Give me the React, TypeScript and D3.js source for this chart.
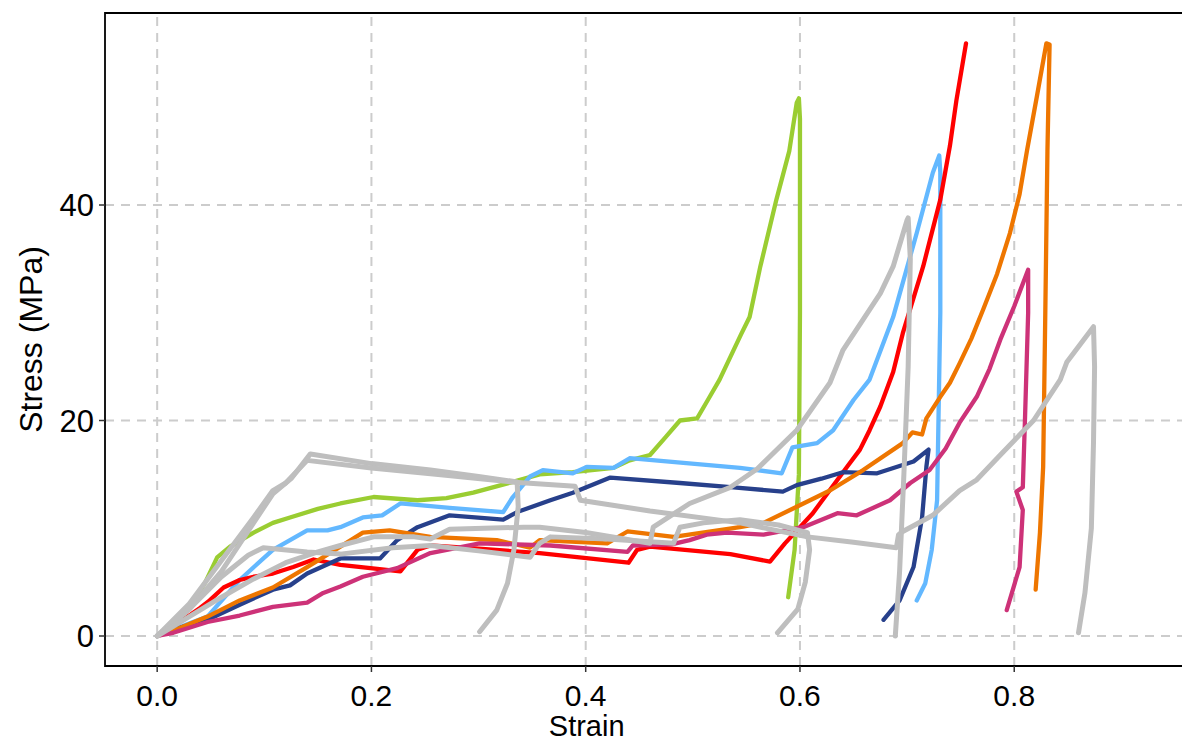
import * as React from 'react'
import * as d3 from 'd3'

type Pt = [number, number]

// strain, stress (MPa) pairs
const greenCurve: Pt[] = [[0,0],[0.015,1],[0.031,2.7],[0.045,5],[0.056,7.3],[0.068,8.3],[0.09,9.6],[0.108,10.5],[0.124,11],[0.15,11.8],[0.171,12.3],[0.202,12.9],[0.243,12.6],[0.27,12.8],[0.295,13.3],[0.332,14.3],[0.357,15],[0.388,15.2],[0.426,15.6],[0.441,16.3],[0.46,16.8],[0.475,18.5],[0.488,20],[0.504,20.2],[0.514,21.9],[0.525,23.8],[0.545,28],[0.553,29.6],[0.563,34.3],[0.578,40.5],[0.59,45],[0.597,49.5],[0.599,49.9],[0.6,48],[0.6,30],[0.599,15],[0.595,8],[0.589,3.6]]
const skyCurve: Pt[] = [[0,0],[0.031,1.2],[0.047,1.8],[0.077,5.2],[0.108,8],[0.14,9.8],[0.159,9.8],[0.171,10.1],[0.192,11],[0.21,11.2],[0.227,12.3],[0.273,11.9],[0.323,11.5],[0.332,12.9],[0.348,14.8],[0.36,15.4],[0.388,15.1],[0.401,15.7],[0.426,15.6],[0.441,16.5],[0.544,15.6],[0.583,15.1],[0.593,17.5],[0.616,17.9],[0.631,19.1],[0.65,21.9],[0.665,23.8],[0.687,29.6],[0.709,37.4],[0.724,43],[0.73,44.6],[0.731,43],[0.731,30],[0.728,12.6],[0.723,8],[0.717,4.9],[0.709,3.3]]
const redCurve: Pt[] = [[0,0],[0.02,1.2],[0.04,2.6],[0.049,3.3],[0.062,4.5],[0.077,5.2],[0.09,5.5],[0.108,5.8],[0.127,6.4],[0.146,7.1],[0.171,6.6],[0.227,6.0],[0.243,8.0],[0.255,8.4],[0.3,8.1],[0.357,7.7],[0.44,6.8],[0.448,8.0],[0.46,8.3],[0.535,7.6],[0.572,6.9],[0.586,8.6],[0.612,11.4],[0.644,15.7],[0.656,17.3],[0.665,19.1],[0.675,21.3],[0.687,24.5],[0.696,28.1],[0.715,34.3],[0.731,40.5],[0.74,45.5],[0.746,49.7],[0.755,55]]
const navyCurve: Pt[] = [[0,0],[0.015,0.6],[0.047,1.5],[0.077,2.9],[0.108,4.3],[0.124,4.7],[0.14,5.8],[0.171,7.2],[0.208,7.2],[0.224,8.9],[0.243,10.1],[0.273,11.2],[0.323,10.8],[0.336,11.5],[0.367,12.6],[0.388,13.3],[0.423,14.7],[0.488,14.2],[0.538,13.8],[0.584,13.4],[0.597,14],[0.62,14.6],[0.64,15.2],[0.672,15.1],[0.706,16.2],[0.72,17.3],[0.718,15.7],[0.714,11.0],[0.706,6.4],[0.693,3.3],[0.678,1.5]]
const orangeCurve: Pt[] = [[0,0],[0.02,0.7],[0.047,1.8],[0.077,3.3],[0.108,4.5],[0.14,6.4],[0.171,8.3],[0.192,9.6],[0.217,9.8],[0.255,9.2],[0.317,8.9],[0.348,8.2],[0.357,8.9],[0.42,8.6],[0.439,9.7],[0.482,9.2],[0.544,10.1],[0.566,10.5],[0.597,12.0],[0.628,13.5],[0.659,15.4],[0.696,17.9],[0.705,18.9],[0.714,18.7],[0.718,20.2],[0.731,22.2],[0.74,23.5],[0.749,25.3],[0.76,27.6],[0.771,30.3],[0.784,33.6],[0.796,37.4],[0.805,41],[0.812,45.1],[0.821,50],[0.83,55.0],[0.833,54.9],[0.831,45],[0.829,30],[0.827,15.7],[0.824,9.6],[0.82,4.3]]
const magentaCurve: Pt[] = [[0,0],[0.015,0.3],[0.047,1.3],[0.077,1.9],[0.108,2.7],[0.14,3.1],[0.155,4.0],[0.171,4.6],[0.192,5.5],[0.224,6.3],[0.255,7.7],[0.301,8.6],[0.367,8.4],[0.439,7.8],[0.444,8.4],[0.48,8.5],[0.497,8.9],[0.513,9.4],[0.532,9.6],[0.566,9.4],[0.603,10.1],[0.635,11.4],[0.653,11.2],[0.684,12.6],[0.703,14.2],[0.721,15.4],[0.736,17.4],[0.749,19.8],[0.765,22.2],[0.777,24.8],[0.787,27.5],[0.8,30.6],[0.813,34.0],[0.813,30],[0.81,20],[0.808,13.8],[0.802,13.4],[0.808,11.7],[0.805,6.4],[0.793,2.4]]

const greyA: Pt[] = [[0,0],[0.03,2.5],[0.06,6],[0.09,10.5],[0.108,13.2],[0.125,14.6],[0.143,16.9],[0.2,16.0],[0.255,15.4],[0.3,14.8],[0.336,14.3],[0.337,12],[0.333,8],[0.327,4.9],[0.317,2.4],[0.301,0.4]]
const greyB: Pt[] = [[0,0],[0.03,3],[0.06,7],[0.09,11],[0.108,13.5],[0.12,14.2],[0.14,16.3],[0.2,15.6],[0.26,15],[0.33,14.3],[0.39,13.9],[0.395,12.6],[0.46,11.6],[0.544,10.5],[0.607,9.2],[0.65,8.7],[0.69,8.2],[0.692,9.4],[0.696,9.7],[0.724,11.2],[0.749,13.5],[0.765,14.5],[0.787,16.8],[0.818,20],[0.843,23.8],[0.849,25.4],[0.874,28.7],[0.875,25],[0.874,18],[0.872,10],[0.866,4],[0.86,0.3]]
const greyC: Pt[] = [[0,0],[0.03,2.5],[0.06,5.5],[0.085,7.5],[0.099,8.2],[0.14,7.8],[0.171,7.6],[0.22,8.2],[0.255,8.4],[0.3,7.9],[0.348,7.3],[0.357,8.6],[0.367,9.2],[0.42,9.0],[0.482,8.6],[0.488,10.1],[0.51,10.5],[0.544,10.8],[0.58,10.3],[0.607,9.6],[0.609,8],[0.605,5],[0.598,2.5],[0.579,0.3]]
const greyD: Pt[] = [[0,0],[0.03,1.8],[0.06,3.6],[0.09,5.3],[0.12,6.8],[0.15,7.8],[0.171,8.4],[0.202,9.2],[0.24,9.2],[0.255,9.0],[0.273,9.9],[0.342,10.1],[0.357,10.1],[0.4,9.6],[0.46,8.6],[0.463,10.1],[0.497,12.3],[0.535,13.8],[0.56,15.5],[0.597,19.1],[0.628,23.5],[0.64,26.5],[0.675,31.8],[0.687,34.3],[0.7,38.6],[0.701,38.8],[0.703,35],[0.701,25],[0.697,15],[0.693,6],[0.689,0]]

const colouredSeries = [
  { name: 'green', colour: '#9acd32', pts: greenCurve },
  { name: 'sky', colour: '#63b8ff', pts: skyCurve },
  { name: 'red', colour: '#ff0000', pts: redCurve },
  { name: 'navy', colour: '#27408b', pts: navyCurve },
  { name: 'orange', colour: '#ee7600', pts: orangeCurve },
  { name: 'magenta', colour: '#cd3278', pts: magentaCurve },
]
const greySeries = [greyA, greyB, greyC, greyD]

const xTicks = [0, 0.2, 0.4, 0.6, 0.8]
const yTicks = [0, 20, 40]

const W = 1182
const H = 744
const FONT = 'Liberation Sans, Arial, Helvetica, sans-serif'

const App = () => {
  const x = d3.scaleLinear().domain([-0.0487, 0.9566]).range([105, 1182])
  const y = d3.scaleLinear().domain([-2.784, 57.82]).range([666, 13])
  const line = d3.line<Pt>().x(d => x(d[0])).y(d => y(d[1]))

  const [x0, x1] = x.range()
  const [y0, y1] = y.range()

  return (
    <svg width={W} height={H} style={{ position: 'absolute', left: 0, top: 0, background: '#fff' }}>
      <rect x={0} y={0} width={W} height={H} fill="#fff" />
      {/* grid */}
      {xTicks.map(t => (
        <line key={'gx' + t} x1={x(t)} x2={x(t)} y1={y0} y2={y1} stroke="#cccccc" strokeWidth={2} strokeDasharray="9,7" />
      ))}
      {yTicks.map(t => (
        <line key={'gy' + t} x1={x0} x2={x1} y1={y(t)} y2={y(t)} stroke="#cccccc" strokeWidth={2} strokeDasharray="9,7" />
      ))}

      {/* curves */}
      <g fill="none" strokeLinejoin="round" strokeLinecap="round">
        {colouredSeries.map(s => (
          <path key={s.name} d={line(s.pts) || ''} stroke={s.colour} strokeWidth={4.3} />
        ))}
        {greySeries.map((pts, i) => (
          <path key={'g' + i} d={line(pts) || ''} stroke="#bebebe" strokeWidth={5} />
        ))}
      </g>

      {/* panel border */}
      <path d={`M${x1 + 5},${y1} H${x0} V${y0} H${x1 + 5}`} fill="none" stroke="#000" strokeWidth={1.8} />

      {/* axes ticks */}
      {xTicks.map(t => (
        <g key={'xt' + t}>
          <line x1={x(t)} x2={x(t)} y1={y0} y2={y0 + 6} stroke="#333" strokeWidth={1.5} />
          <text x={x(t)} y={y0 + 40} textAnchor="middle" fontFamily={FONT} fontSize={30} fill="#000">
            {t.toFixed(1)}
          </text>
        </g>
      ))}
      {yTicks.map(t => (
        <g key={'yt' + t}>
          <line x1={x0 - 6} x2={x0} y1={y(t)} y2={y(t)} stroke="#333" strokeWidth={1.5} />
          <text x={x0 - 11} y={y(t) + 11} textAnchor="end" fontFamily={FONT} fontSize={31} fill="#000">
            {t}
          </text>
        </g>
      ))}

      <text x={x(0.4) + 1} y={736} textAnchor="middle" fontFamily={FONT} fontSize={29} fill="#000">
        Strain
      </text>
      <text transform={`translate(42,${(y0 + y1) / 2}) rotate(-90)`} textAnchor="middle" fontFamily={FONT} fontSize={32} fill="#000">
        Stress (MPa)
      </text>
    </svg>
  )
}

export default App
